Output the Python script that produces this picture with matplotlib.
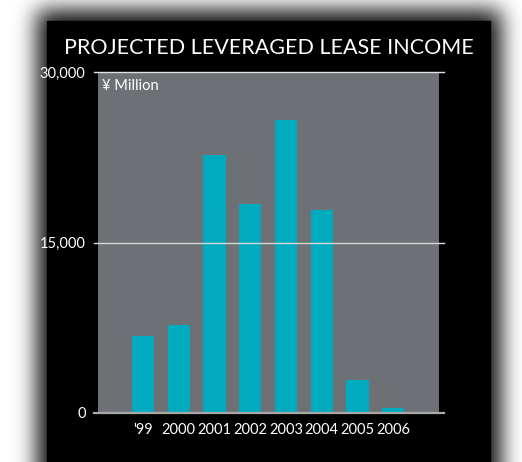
import numpy as np
import matplotlib.pyplot as plt
from matplotlib.patches import Rectangle

plt.rcParams['font.family'] = ['Lato', 'DejaVu Sans']

years = ["'99", "2000", "2001", "2002", "2003", "2004", "2005", "2006"]
income = [6800, 7700, 22700, 18400, 25800, 17900, 2900, 400]  # ¥ Million
yticks = [0, 15000, 30000]
ytick_labels = ["0", "15,000", "30,000"]

W, H = 522, 462
fig = plt.figure(figsize=(W / 100, H / 100), dpi=100)
fig.patch.set_facecolor('white')

# soft drop shadow behind the black panel
bg = fig.add_axes([0, 0, 1, 1])
bg.set_axis_off()
yy, xx = np.mgrid[0:H, 0:W]
mask = ((xx >= 37) & (xx <= 500) & (yy >= 10)).astype(float)
sigma = 11
k = np.arange(-3 * sigma, 3 * sigma + 1)
kern = np.exp(-k ** 2 / (2 * sigma ** 2))
kern /= kern.sum()
pad = 3 * sigma
m = np.pad(mask, pad, mode='edge')
m = np.apply_along_axis(lambda r: np.convolve(r, kern, mode='same'), 1, m)
m = np.apply_along_axis(lambda c: np.convolve(c, kern, mode='same'), 0, m)
m = m[pad:-pad, pad:-pad]
shade = 1 - 0.95 * m
bg.imshow(shade, cmap='gray', vmin=0, vmax=1, extent=[0, W, H, 0], aspect='auto')
bg.add_patch(Rectangle((47, 21), 443, H - 21, color='black'))
bg.set_xlim(0, W)
bg.set_ylim(H, 0)

fig.text(269 / W, 1 - 48 / H, 'PROJECTED LEVERAGED LEASE INCOME', color='white',
         fontsize=15.5, ha='center', va='center')

ax = fig.add_axes([98 / W, 1 - 413 / H, 341 / W, 341 / H])
ax.set_facecolor('#6d7175')
x = np.arange(len(years))
ax.bar(x, income, width=0.62, color='#00abc0', zorder=2)
ax.set_xlim(-1.26, 8.28)
ax.set_ylim(0, 30000)

for v, c, lw in [(0, '#a9a9a9', 1.6), (15000, '#d8d8d8', 1.0), (30000, '#e0e0e0', 1.0)]:
    ax.axhline(v, xmin=-0.013, xmax=1.015, color=c, lw=lw, clip_on=False, zorder=3)

for s in ax.spines.values():
    s.set_visible(False)
ax.set_yticks(yticks)
ax.set_yticklabels(ytick_labels)
ax.set_xticks(x)
ax.set_xticklabels(years)
ax.tick_params(length=0, colors='white', labelsize=10.5)
ax.tick_params(axis='y', pad=9)
ax.tick_params(axis='x', pad=7)

ax.text(0.012, 0.96, '¥ Million', transform=ax.transAxes, color='white',
        fontsize=10.5, ha='left', va='center')

fig.savefig('out.png', dpi=100, facecolor=fig.get_facecolor())
